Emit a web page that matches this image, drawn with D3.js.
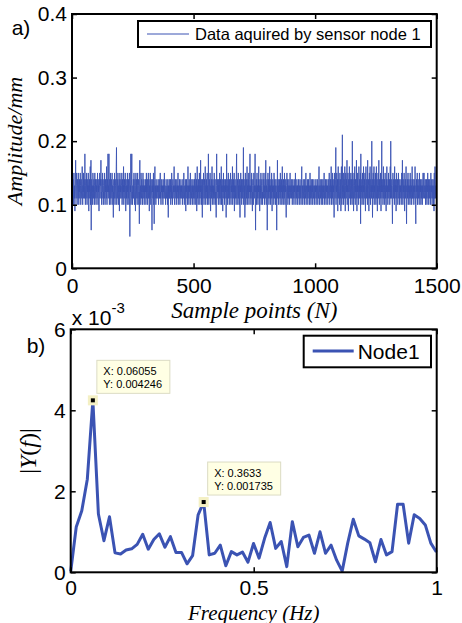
<!DOCTYPE html>
<html lang="en">
<head>
<meta charset="UTF-8">
<title>Sensor node 1</title>
<script src="https://d3js.org/d3.v7.min.js"></script>
<style>
  body { margin: 0; background: #fff; }
  svg text { font-family: "Liberation Sans", Arial, sans-serif; fill: #000; }
  svg .serif { font-family: "Liberation Serif", "Times New Roman", serif; font-style: italic; }
</style>
</head>
<body>
<div class="chartContainer"></div>
<script>
// a) samples (mm), sample points 1..1500
const sampleAmp = [
.12,.13,.11,.14,.12,.10,.13,.15,.12,.11,.13,.09,.12,.14,.17,.12,.11,.13,.15,.12,.10,.12,.14,.13,.11,.15,.12,.10,.13,.12,.14,.11,.12,.15,.13,.10,.12,.14,.12,.11,.13,.16,.12,.10,.13,.12,.15,.11,.12,.14,
.13,.11,.18,.12,.10,.13,.14,.11,.12,.15,.12,.10,.14,.12,.13,.11,.15,.12,.09,.13,.12,.14,.11,.12,.16,.10,.13,.17,.06,.12,.14,.11,.13,.12,.10,.15,.12,.13,.11,.14,.12,.10,.13,.15,.11,.12,.14,.12,.10,.13,
.12,.14,.11,.13,.15,.12,.10,.13,.12,.14,.09,.12,.13,.15,.11,.12,.14,.13,.17,.11,.12,.10,.14,.12,.13,.15,.11,.12,.10,.13,.14,.12,.11,.15,.13,.10,.12,.14,.12,.13,.11,.16,.12,.10,.13,.14,.12,.18,.11,.13,
.12,.18,.12,.10,.14,.13,.11,.15,.12,.10,.13,.14,.12,.11,.15,.12,.13,.10,.12,.08,.13,.14,.12,.11,.15,.12,.10,.14,.13,.12,.11,.16,.19,.10,.12,.14,.13,.11,.15,.12,.10,.13,.12,.14,.09,.12,.15,.11,.13,.12,
.14,.11,.12,.13,.15,.10,.12,.14,.11,.13,.12,.16,.10,.13,.12,.14,.11,.12,.15,.13,.09,.12,.14,.11,.13,.12,.10,.15,.12,.13,.11,.14,.12,.10,.13,.15,.12,.05,.11,.13,.12,.18,.10,.13,.14,.18,.11,.12,.10,.13,
.12,.14,.11,.13,.15,.12,.10,.13,.14,.12,.09,.13,.15,.11,.12,.14,.12,.10,.13,.15,.11,.12,.14,.13,.10,.12,.07,.14,.17,.11,.12,.13,.10,.15,.12,.11,.14,.12,.13,.10,.12,.15,.11,.13,.12,.14,.10,.12,.13,.11,
.13,.12,.14,.10,.12,.15,.11,.13,.12,.14,.10,.12,.13,.15,.11,.12,.14,.09,.13,.12,.11,.15,.12,.10,.13,.14,.12,.11,.06,.13,.12,.14,.11,.12,.15,.10,.13,.07,.12,.14,.16,.11,.12,.13,.10,.14,.12,.11,.13,.12,
.12,.13,.11,.14,.12,.10,.13,.12,.14,.11,.12,.13,.15,.11,.12,.10,.13,.12,.14,.12,.11,.13,.12,.10,.14,.12,.13,.11,.12,.15,.12,.11,.13,.12,.10,.12,.14,.13,.11,.12,.13,.12,.10,.14,.12,.08,.13,.12,.11,.14,
.12,.11,.13,.12,.14,.10,.12,.13,.11,.15,.12,.12,.10,.13,.14,.11,.12,.13,.12,.16,.11,.10,.13,.12,.14,.12,.11,.13,.10,.12,.14,.12,.11,.13,.12,.15,.10,.12,.13,.11,.12,.14,.12,.10,.13,.12,.11,.14,.12,.13,
.11,.12,.13,.10,.12,.14,.12,.11,.13,.15,.12,.10,.12,.13,.11,.14,.12,.09,.13,.12,.14,.11,.12,.13,.10,.12,.16,.11,.13,.12,.10,.14,.12,.13,.11,.12,.15,.10,.12,.13,.12,.11,.14,.12,.10,.13,.12,.14,.11,.12,
.13,.10,.12,.14,.11,.13,.15,.12,.10,.13,.12,.14,.09,.12,.16,.11,.13,.12,.10,.14,.12,.13,.11,.15,.12,.10,.13,.12,.17,.11,.12,.14,.10,.13,.12,.08,.14,.12,.11,.13,.15,.12,.10,.13,.14,.11,.12,.16,.12,.10,
.13,.12,.14,.11,.12,.15,.10,.13,.12,.11,.18,.12,.10,.13,.14,.12,.11,.15,.12,.09,.13,.12,.14,.11,.12,.16,.10,.13,.12,.14,.11,.12,.13,.10,.15,.12,.11,.13,.14,.12,.10,.12,.08,.13,.18,.12,.11,.14,.12,.13,
.12,.10,.14,.12,.13,.11,.15,.12,.10,.13,.14,.11,.12,.16,.10,.13,.12,.14,.11,.09,.13,.12,.15,.11,.12,.14,.10,.13,.12,.11,.14,.12,.13,.08,.12,.18,.11,.13,.12,.10,.14,.12,.15,.11,.12,.13,.10,.14,.12,.11,
.13,.15,.12,.10,.13,.12,.14,.11,.12,.16,.10,.13,.12,.14,.11,.12,.15,.09,.13,.12,.14,.11,.12,.13,.10,.15,.18,.11,.12,.13,.14,.10,.12,.15,.11,.13,.12,.10,.14,.12,.08,.13,.12,.15,.11,.12,.14,.10,.13,.12,
.11,.14,.12,.13,.19,.10,.12,.14,.11,.13,.08,.12,.15,.12,.10,.13,.14,.11,.12,.16,.10,.13,.12,.14,.11,.12,.15,.10,.13,.12,.14,.18,.11,.12,.13,.10,.14,.12,.15,.11,.12,.09,.13,.14,.12,.10,.13,.15,.12,.11,
.13,.12,.18,.11,.06,.13,.12,.14,.10,.12,.15,.11,.13,.12,.10,.14,.12,.16,.11,.13,.12,.09,.14,.12,.13,.11,.15,.10,.12,.13,.14,.11,.12,.10,.13,.15,.12,.11,.14,.12,.13,.10,.12,.15,.11,.13,.17,.12,.10,.13,
.12,.14,.06,.12,.13,.15,.11,.12,.14,.10,.13,.12,.16,.11,.12,.13,.10,.14,.12,.11,.15,.12,.09,.13,.12,.14,.11,.12,.13,.10,.15,.12,.11,.14,.12,.13,.10,.12,.14,.11,.12,.06,.13,.12,.17,.11,.12,.14,.10,.13,
.12,.11,.14,.12,.13,.10,.15,.12,.11,.13,.12,.14,.10,.12,.16,.11,.13,.12,.10,.14,.12,.13,.11,.15,.12,.10,.13,.12,.14,.11,.08,.12,.13,.15,.11,.12,.14,.10,.13,.12,.11,.14,.12,.13,.10,.12,.15,.11,.12,.13,
.12,.14,.11,.12,.13,.10,.12,.14,.12,.11,.13,.12,.10,.14,.12,.13,.11,.12,.15,.12,.10,.13,.12,.11,.14,.12,.13,.10,.12,.13,.12,.14,.11,.12,.10,.13,.12,.14,.11,.12,.13,.10,.12,.14,.16,.11,.12,.13,.10,.12,
.14,.12,.11,.13,.12,.10,.14,.12,.13,.11,.12,.15,.10,.12,.13,.12,.11,.14,.12,.10,.13,.12,.14,.11,.12,.13,.10,.12,.15,.11,.13,.12,.10,.14,.12,.11,.13,.12,.14,.10,.12,.13,.11,.12,.14,.12,.10,.13,.12,.11,
.13,.12,.14,.10,.12,.13,.11,.12,.14,.12,.10,.13,.12,.11,.14,.16,.12,.10,.13,.12,.14,.11,.12,.13,.10,.12,.14,.11,.13,.12,.10,.14,.12,.13,.11,.12,.15,.10,.12,.13,.12,.11,.14,.12,.10,.13,.12,.14,.11,.12,
.13,.10,.12,.14,.12,.11,.13,.15,.12,.10,.13,.12,.14,.11,.12,.16,.10,.13,.12,.14,.11,.15,.12,.10,.13,.12,.14,.08,.12,.15,.13,.11,.12,.14,.19,.10,.13,.12,.15,.11,.12,.14,.09,.13,.16,.12,.11,.14,.12,.10,
.13,.15,.12,.11,.14,.09,.13,.16,.12,.10,.14,.21,.11,.13,.12,.15,.10,.12,.14,.13,.11,.16,.12,.09,.13,.15,.12,.11,.14,.12,.17,.10,.13,.12,.15,.11,.09,.14,.12,.13,.16,.11,.12,.14,.10,.13,.15,.12,.11,.14,
.12,.10,.20,.12,.11,.14,.13,.09,.12,.15,.11,.13,.16,.12,.10,.14,.12,.13,.11,.17,.12,.09,.14,.12,.15,.11,.13,.12,.10,.16,.12,.14,.11,.13,.12,.15,.07,.18,.11,.13,.12,.14,.10,.12,.15,.11,.13,.12,.16,.10,
.13,.12,.14,.11,.15,.12,.09,.13,.16,.12,.11,.14,.12,.13,.10,.17,.12,.11,.14,.13,.09,.12,.15,.11,.13,.16,.12,.10,.14,.12,.13,.11,.20,.12,.13,.08,.14,.12,.15,.11,.12,.16,.10,.13,.12,.14,.11,.15,.12,.10,
.13,.16,.11,.12,.14,.09,.13,.12,.15,.11,.13,.17,.12,.10,.14,.12,.13,.11,.15,.12,.09,.14,.12,.20,.11,.13,.12,.14,.10,.12,.16,.11,.13,.12,.14,.10,.12,.15,.11,.13,.12,.09,.14,.12,.16,.11,.12,.13,.10,.14,
.12,.15,.11,.13,.12,.14,.10,.12,.16,.11,.20,.12,.13,.11,.14,.12,.10,.07,.13,.15,.12,.11,.14,.12,.13,.10,.16,.12,.11,.14,.12,.13,.09,.12,.15,.11,.13,.12,.14,.10,.12,.13,.15,.11,.12,.14,.10,.13,.12,.11,
.13,.12,.14,.10,.12,.15,.11,.13,.17,.12,.10,.14,.12,.13,.11,.15,.12,.09,.13,.12,.14,.11,.12,.16,.10,.07,.13,.12,.14,.11,.12,.15,.10,.13,.12,.14,.11,.12,.13,.10,.15,.12,.11,.14,.12,.13,.10,.12,.16,.11,
.12,.14,.11,.13,.12,.10,.14,.12,.13,.11,.16,.12,.10,.07,.13,.12,.14,.11,.12,.15,.10,.13,.12,.14,.11,.12,.13,.10,.15,.12,.11,.13,.12,.14,.10,.12,.13,.11,.14,.12,.10,.13,.12,.15,.11,.12,.14,.15,.12,.11,
.13,.12,.14,.10,.12,.13,.11,.14,.12,.10,.13,.12,.15,.11,.12,.14,.10,.13,.12,.11,.14,.12,.13,.10,.12,.15,.11,.13,.12,.14,.10,.12,.13,.11,.14,.12,.10,.13,.09,.15,.11,.12,.16,.14,.12,.11,.13,.12,.11,.12
];

// b) |Y(f)| in units of 1e-3, bins spaced freqStep Hz apart starting at 0
const freqStep = 0.0151375;
const fftMag = [
0.02,1.12,1.52,2.30,4.246,1.44,0.78,1.37,0.48,0.45,
0.55,0.58,0.69,0.94,0.57,0.81,0.95,0.62,0.88,0.49,
0.49,0.21,0.41,1.42,1.735,0.43,0.47,0.67,0.16,0.51,
0.43,0.50,0.25,0.71,0.35,0.84,1.23,0.59,0.76,0.14,
1.25,0.63,0.86,0.92,0.47,1.00,0.47,0.67,0.30,0.03,
0.72,1.31,0.90,0.82,0.73,0.26,0.81,0.43,0.51,1.68,
1.68,0.72,1.42,1.33,1.17,0.72,0.50
];

const topXTicks = [0, 500, 1000, 1500];
const topYTicks = [0, 0.1, 0.2, 0.3, 0.4];
const botXTicks = [0, 0.5, 1];
const botYTicks = [0, 2, 4, 6];

// data tips on panel b
const tipX = [0.06055, 0.3633];
const tipY = [0.004246, 0.001735];

const blue = '#3b53b3';

const svg = d3.select('.chartContainer')
    .append('svg')
    .attr('width', 462)
    .attr('height', 623);

// scales
const x1 = d3.scaleLinear().domain([0, 1500]).range([72, 436.7]);
const y1 = d3.scaleLinear().domain([0, 0.4]).range([268.3, 14]);
const x2 = d3.scaleLinear().domain([0, 1]).range([70.7, 436.7]);
const y2 = d3.scaleLinear().domain([0, 6]).range([572.3, 329.3]);

// MATLAB style box: ticks inward on all 4 sides, labels only bottom/left
function drawAxes(x, y, xt, yt, xPad) {
    const g = svg.append('g');
    const [x0, xe] = x.range();
    const [yb, yTop] = y.range();
    g.append('g').attr('transform', `translate(0,${yb})`)
        .call(d3.axisBottom(x).tickValues(xt).tickSize(-5).tickPadding(xPad).tickFormat(d => d));
    g.append('g').attr('transform', `translate(${x0},0)`)
        .call(d3.axisLeft(y).tickValues(yt).tickSize(-5).tickPadding(5).tickFormat(d => d));
    g.append('g').attr('transform', `translate(0,${yTop})`)
        .call(d3.axisTop(x).tickValues(xt).tickSize(-5).tickFormat(''));
    g.append('g').attr('transform', `translate(${xe},0)`)
        .call(d3.axisRight(y).tickValues(yt).tickSize(-5).tickFormat(''));
    g.selectAll('.domain').remove();
    g.selectAll('.tick line').attr('stroke', '#000').attr('stroke-width', 1.5);
    g.selectAll('.tick text').style('font-size', '21px').attr('fill', '#000');
    g.append('rect')
        .attr('x', x0).attr('y', yTop)
        .attr('width', xe - x0).attr('height', yb - yTop)
        .attr('fill', 'none').attr('stroke', '#000').attr('stroke-width', 2);
    return g;
}

// ---- panel a ----
svg.append('clipPath').attr('id', 'clipA')
    .append('rect').attr('x', x1(0)).attr('y', y1(0.4))
    .attr('width', x1(1500) - x1(0)).attr('height', y1(0) - y1(0.4));

svg.append('path')
    .datum(sampleAmp)
    .attr('clip-path', 'url(#clipA)')
    .attr('fill', 'none')
    .attr('stroke', blue)
    .attr('stroke-width', 0.9)
    .attr('d', d3.line().x((d, i) => x1(i + 1)).y(d => y1(d)));

drawAxes(x1, y1, topXTicks, topYTicks, 10);

svg.append('text').attr('x', 11.7).attr('y', 35).style('font-size', '21px').text('a)');

svg.append('text').attr('class', 'serif')
    .attr('transform', 'translate(22,141) rotate(-90)')
    .attr('text-anchor', 'middle')
    .style('font-size', '22px')
    .text('Amplitude/mm');

svg.append('text').attr('class', 'serif')
    .attr('x', (x1(0) + x1(1500)) / 2).attr('y', 318)
    .attr('text-anchor', 'middle')
    .style('font-size', '23px')
    .text('Sample points (N)');

// legend a
const legA = svg.append('g');
legA.append('rect').attr('x', 138).attr('y', 21).attr('width', 293).attr('height', 26)
    .attr('fill', '#fff').attr('stroke', '#000').attr('stroke-width', 2);
legA.append('line').attr('x1', 147).attr('x2', 189).attr('y1', 34).attr('y2', 34)
    .attr('stroke', blue).attr('stroke-width', 1);
legA.append('text').attr('x', 195).attr('y', 39.5).style('font-size', '16.5px')
    .text('Data aquired by sensor node 1');

// ---- panel b ----
svg.append('path')
    .datum(fftMag)
    .attr('fill', 'none')
    .attr('stroke', blue)
    .attr('stroke-width', 3)
    .attr('stroke-linejoin', 'round')
    .attr('d', d3.line().x((d, i) => x2(i * freqStep)).y(d => y2(d)));

drawAxes(x2, y2, botXTicks, botYTicks, 8);

svg.append('text').attr('x', 26.7).attr('y', 353).style('font-size', '21px').text('b)');

const expo = svg.append('text').attr('x', 71.7).attr('y', 325).style('font-size', '21px');
expo.append('tspan').text('x 10');
expo.append('tspan').attr('dy', -12).style('font-size', '15px').text('-3');

const yLab = svg.append('text')
    .attr('transform', 'translate(36,451) rotate(-90)')
    .attr('text-anchor', 'middle')
    .style('font-family', '"Liberation Serif", serif')
    .style('font-size', '24px');
[['|', false], ['Y', true], ['(', false], ['f', true], [')', false], ['|', false]].forEach(([t, it]) => {
    yLab.append('tspan').style('font-style', it ? 'italic' : 'normal')
        .style('font-family', '"Liberation Serif", serif').text(t);
});

svg.append('text').attr('class', 'serif')
    .attr('x', (x2(0) + x2(1)) / 2).attr('y', 619.5)
    .attr('text-anchor', 'middle')
    .style('font-size', '21px')
    .text('Frequency (Hz)');

// legend b
const legB = svg.append('g');
legB.append('rect').attr('x', 303.7).attr('y', 335.7).attr('width', 127.3).attr('height', 31.6)
    .attr('fill', '#fff').attr('stroke', '#000').attr('stroke-width', 2);
legB.append('line').attr('x1', 312.7).attr('x2', 353.7).attr('y1', 351).attr('y2', 351)
    .attr('stroke', blue).attr('stroke-width', 3);
legB.append('text').attr('x', 357.7).attr('y', 359).style('font-size', '21px').text('Node1');

// data tips
tipX.forEach((fx, i) => {
    const px = x2(fx), py = y2(tipY[i] * 1000);
    const bx = px + 4, by = py - 7 - 33;
    const tip = svg.append('g');
    tip.append('rect').attr('x', bx).attr('y', by).attr('width', 73).attr('height', 33)
        .attr('fill', '#ffffe4').attr('stroke', '#dcdcc4').attr('stroke-width', 1);
    tip.append('text').attr('x', bx + 6.5).attr('y', by + 14.7)
        .style('font-size', '11px').attr('fill', '#222').text('X: ' + fx);
    tip.append('text').attr('x', bx + 6.5).attr('y', by + 27.7)
        .style('font-size', '11px').attr('fill', '#222').text('Y: ' + tipY[i]);
    tip.append('rect').attr('x', px - 3.5).attr('y', py - 3.5).attr('width', 7).attr('height', 7)
        .attr('fill', '#000').attr('stroke', '#f4f0c4').attr('stroke-width', 3);
});
</script>
</body>
</html>
